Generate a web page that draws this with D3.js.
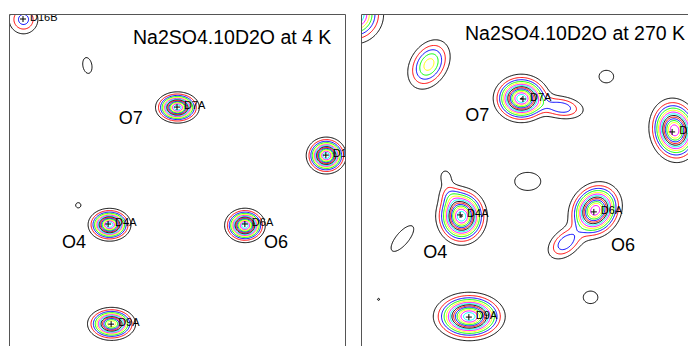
<!DOCTYPE html>
<html>
<head>
<meta charset="utf-8">
<script src="https://cdn.jsdelivr.net/npm/d3@7/dist/d3.min.js"></script>
<style>
  body { margin: 0; background: #fff; }
  svg { display: block; }
  text { font-family: "Liberation Sans", Arial, sans-serif; fill: #000; }
</style>
</head>
<body>
<svg id="chart" width="688" height="346"></svg>
<script>
// contour colours, cycling from the lowest level inwards
const levelColors = ['#000', '#f00', '#00f', '#0f0', '#ff0', '#f0f', '#0ff']
const levels = d3.range(1, 17)

// density peaks in map units (0..100): [u, v, height in levels, sigma major, sigma minor, angle]
const peaks4K = [
  [3.9, 1.5, 3.5, 2.7, 2.7, 0],
  [22.9, 15.2, 1.7, 2.3, 1.3, 80],
  [49.7, 27.7, 15, 2.8, 2.0, 0],
  [94.0, 42.0, 15, 2.56, 2.36, 0],
  [20.2, 56.8, 1.7, 0.75, 0.75, 0],
  [29.5, 62.6, 15, 2.74, 2.1, 0],
  [69.8, 62.8, 15, 2.6, 2.2, 0],
  [30.1, 92.1, 13, 3.16, 2.17, 0]
]
const peaks270K = [
  [-2.5, 0, 9, 4.2, 4.2, 0],
  [19.8, 14.9, 5.5, 4.3, 3.0, -58],
  [47.3, 25.0, 15, 3.6, 3.1, 0],
  [59.2, 27.7, 3.8, 4.0, 2.0, 8],
  [72.6, 18.5, 1.7, 2.1, 1.8, 0],
  [92.9, 34.5, 14, 4.2, 3.3, 80],
  [49.2, 49.7, 1.7, 3.75, 2.6, 0],
  [29.5, 60.1, 15, 3.7, 3.3, 90],
  [26.2, 53.9, 2.0, 2.5, 2.0, 60],
  [24.8, 48.3, 1.5, 1.8, 1.4, 80],
  [11.9, 66.7, 1.7, 4.6, 1.8, 130],
  [69.3, 58.3, 14, 3.9, 3.3, 125],
  [60.4, 68.0, 3.8, 3.6, 2.3, 140],
  [67.9, 84.2, 1.7, 2.1, 1.8, 0],
  [31.8, 89.9, 15, 4.6, 3.1, 0],
  [4.8, 84.8, 1.15, 0.6, 0.6, 0],
  [85.4, 100.6, 1.7, 2.0, 1.5, 0]
]

// atom sites: name, u, v
const atomNames4K = ['D16B', 'D7A', 'D1', 'D4A', 'D6A', 'D9A']
const atomU4K = [3.87, 49.7, 94.0, 29.2, 69.9, 30.1]
const atomV4K = [1.49, 27.7, 42.0, 62.5, 62.5, 92.3]
const atomNames270K = ['D7A', 'D1', 'D4A', 'D6A', 'D9A']
const atomU270K = [47.9, 92.3, 29.2, 69.0, 31.8]
const atomV270K = [25.3, 35.1, 59.8, 58.9, 90.2]

// oxygen names
const oxygenNames = ['O7', 'O4', 'O6']
const oxygenU4K = [32.4, 15.5, 75.6]
const oxygenV4K = [32.7, 69.6, 69.6]
const oxygenU270K = [30.7, 18.2, 74.1]
const oxygenV270K = [31.8, 72.6, 70.5]

const titles = ['Na2SO4.10D2O at 4 K', 'Na2SO4.10D2O at 270 K']

const svg = d3.select('#chart')

function field(peaks, u, v) {
  let s = 0
  for (const [pu, pv, a, s1, s2, ang] of peaks) {
    const t = ang * Math.PI / 180
    const du = u - pu, dv = v - pv
    const p = du * Math.cos(t) + dv * Math.sin(t)
    const q = -du * Math.sin(t) + dv * Math.cos(t)
    s += a * Math.exp(-0.5 * (p * p / (s1 * s1) + q * q / (s2 * s2)))
  }
  return s
}

function drawPanel(opts) {
  const { id, x0, right, peaks, names, us, vs, ox, oy, title, titleX, titleY } = opts
  const x = d3.scaleLinear().domain([0, 100]).range([x0, x0 + 336])
  const y = d3.scaleLinear().domain([0, 100]).range([14, 350])

  svg.append('clipPath').attr('id', id)
    .append('rect')
    .attr('x', x0).attr('y', 14)
    .attr('width', right - x0).attr('height', 340)

  const g = svg.append('g').attr('clip-path', `url(#${id})`)

  // sample the map
  const step = 0.25, uMin = -4, vMin = -4
  const nx = 433, ny = 433
  const values = new Float64Array(nx * ny)
  for (let j = 0; j < ny; j++) {
    for (let i = 0; i < nx; i++) {
      values[j * nx + i] = field(peaks, uMin + i * step, vMin + j * step)
    }
  }
  const contours = d3.contours().size([nx, ny]).thresholds(levels)(values)
  const proj = d3.geoTransform({
    point: function (px, py) {
      this.stream.point(x(uMin + px * step), y(vMin + py * step))
    }
  })
  const path = d3.geoPath(proj)

  g.selectAll('path.level')
    .data(contours)
    .join('path')
    .attr('class', 'level')
    .attr('d', path)
    .attr('fill', 'none')
    .attr('stroke', (d, i) => levelColors[i % levelColors.length])
    .attr('stroke-width', 1)

  // atom site crosses and small labels
  names.forEach((n, i) => {
    const cx = x(us[i]), cy = y(vs[i])
    g.append('path')
      .attr('d', `M${cx - 3},${cy}H${cx + 3}M${cx},${cy - 3}V${cy + 3}`)
      .attr('stroke', '#000').attr('stroke-width', 1)
    g.append('text')
      .attr('x', cx + 7).attr('y', cy + 2)
      .attr('font-size', 11)
      .text(n)
  })

  oxygenNames.forEach((n, i) => {
    g.append('text')
      .attr('x', x(ox[i])).attr('y', y(oy[i]))
      .attr('font-size', 18)
      .text(n)
  })

  g.append('text')
    .attr('x', titleX).attr('y', titleY)
    .attr('font-size', 19.5)
    .text(title)

  // frame
  svg.append('path')
    .attr('d', `M${x0 - 0.5},350V14.5H${right + 0.5}` + (right < 688 ? 'V350' : ''))
    .attr('fill', 'none')
    .attr('stroke', '#555')
    .attr('stroke-width', 1)
}

drawPanel({
  id: 'clipL', x0: 10, right: 345, peaks: peaks4K,
  names: atomNames4K, us: atomU4K, vs: atomV4K,
  ox: oxygenU4K, oy: oxygenV4K, title: titles[0], titleX: 133, titleY: 44
})
drawPanel({
  id: 'clipR', x0: 362, right: 700, peaks: peaks270K,
  names: atomNames270K, us: atomU270K, vs: atomV270K,
  ox: oxygenU270K, oy: oxygenV270K, title: titles[1], titleX: 465, titleY: 40
})
</script>
</body>
</html>
